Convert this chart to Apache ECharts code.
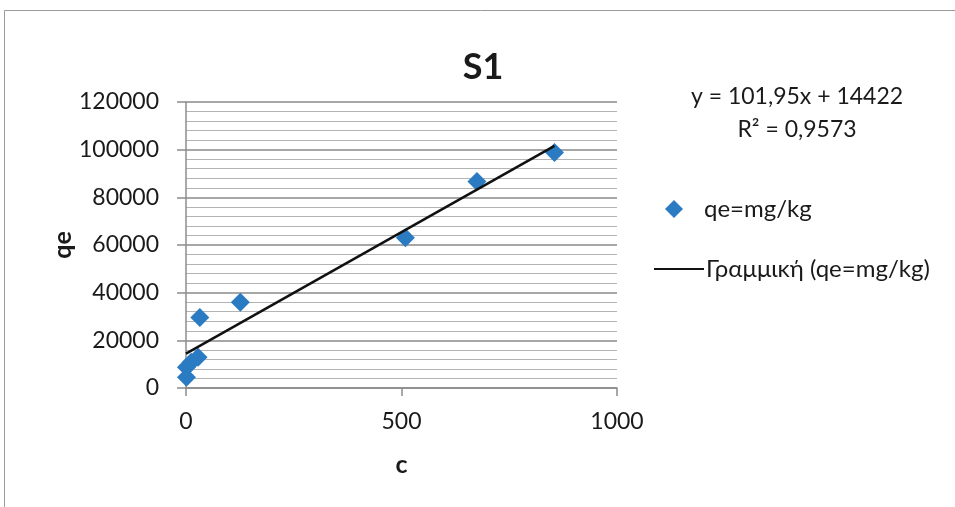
<!DOCTYPE html>
<html>
<head>
<meta charset="utf-8">
<script src="https://cdn.jsdelivr.net/npm/echarts@6/dist/echarts.min.js"></script>
<style>
  html, body { margin: 0; padding: 0; background: #fff; }
  #chart { width: 955px; height: 507px; }
</style>
</head>
<body>
<div id="chart"></div>
<script>
// Measured concentration c and sorbed amount qe (mg/kg)
const cValues  = [1, 1, 12, 28, 32, 126, 509, 675, 855];
const qeValues = [4500, 8700, 10800, 12900, 29600, 36000, 63000, 86600, 98800];

// Linear trend line coefficients (y = slope * x + intercept)
const slope = 101.95;
const intercept = 14422;
const rSquared = '0,9573';

const xTicks = { min: 0, max: 1000, interval: 500 };
const yTicks = { min: 0, max: 120000, interval: 20000 };

const seriesName = 'qe=mg/kg';
const trendName = 'Γραμμική (qe=mg/kg)';

const points = cValues.map((c, i) => [c, qeValues[i]]);
const xStart = Math.min(...cValues) - 1;
const xEnd = Math.max(...cValues);
const trendPoints = [
  [xStart, slope * xStart + intercept],
  [xEnd, slope * xEnd + intercept]
];

const FONT = 'Lato, "Open Sans", sans-serif';
const TEXT = '#1a1a1a';
const plain = v => String(v);

const chart = echarts.init(document.getElementById('chart'), null, { renderer: 'canvas' });
chart.setOption({
  backgroundColor: '#ffffff',
  animation: false,
  textStyle: { fontFamily: FONT, color: TEXT },
  title: {
    text: 'S1',
    left: 478,
    top: 44,
    textAlign: 'center',
    textStyle: { fontFamily: FONT, fontSize: 36, fontWeight: 'bold', color: TEXT }
  },
  legend: [
    {
      data: [{ name: seriesName, icon: 'diamond' }],
      left: 660,
      top: 192,
      itemWidth: 18,
      itemHeight: 18,
      textStyle: { fontFamily: FONT, fontSize: 24, color: TEXT, padding: [0, 0, 0, 16] }
    },
    {
      data: [{ name: trendName }],
      left: 648,
      top: 252,
      itemWidth: 50,
      itemHeight: 2,
      textStyle: { fontFamily: FONT, fontSize: 24, color: TEXT, padding: [0, 0, 0, -3] }
    }
  ],
  graphic: [
    {
      type: 'rect',
      shape: { x: 4.5, y: 10.5, width: 1000, height: 1000 },
      style: { fill: 'none', stroke: '#9a9a9a', lineWidth: 1 },
      silent: true
    },
    {
      type: 'text',
      x: 797, y: 85,
      style: {
        text: 'y = ' + String(slope).replace('.', ',') + 'x + ' + intercept,
        font: '23px ' + FONT,
        fill: TEXT,
        align: 'center'
      }
    },
    {
      type: 'text',
      x: 797, y: 118,
      style: {
        text: 'R² = ' + rSquared,
        font: '23px ' + FONT,
        fill: TEXT,
        align: 'center'
      }
    }
  ],
  grid: { left: 186, right: 338, top: 102, bottom: 119, containLabel: false },
  xAxis: {
    type: 'value',
    min: xTicks.min,
    max: xTicks.max,
    interval: xTicks.interval,
    name: 'c',
    nameLocation: 'middle',
    nameGap: 64,
    nameTextStyle: { fontFamily: FONT, fontSize: 25, fontWeight: 'bold', color: TEXT },
    axisLine: { show: true, lineStyle: { color: '#8c8c8c', width: 1.5 } },
    axisTick: { show: true, inside: false, length: 8, lineStyle: { color: '#8c8c8c', width: 1.5 } },
    axisLabel: { fontFamily: FONT, fontSize: 23, color: TEXT, margin: 22, formatter: plain },
    splitLine: { show: false }
  },
  yAxis: {
    type: 'value',
    min: yTicks.min,
    max: yTicks.max,
    interval: yTicks.interval,
    name: 'qe',
    nameLocation: 'middle',
    nameGap: 110,
    nameRotate: 90,
    nameTextStyle: { fontFamily: FONT, fontSize: 25, fontWeight: 'bold', color: TEXT },
    axisLine: { show: true, lineStyle: { color: '#8c8c8c', width: 1.5 } },
    axisTick: { show: true, inside: false, length: 9, lineStyle: { color: '#8c8c8c', width: 1.5 } },
    axisLabel: { fontFamily: FONT, fontSize: 23, color: TEXT, margin: 27, formatter: plain },
    splitLine: { show: true, lineStyle: { color: '#8a8a8a', width: 1.5 } },
    minorTick: { show: false, splitNumber: 5 },
    minorSplitLine: { show: true, lineStyle: { color: '#b4b4b4', width: 1 } }
  },
  series: [
    {
      name: trendName,
      type: 'line',
      data: trendPoints,
      symbol: 'none',
      lineStyle: { color: '#111111', width: 2.5 },
      itemStyle: { color: '#111111' },
      z: 3
    },
    {
      name: seriesName,
      type: 'scatter',
      data: points,
      symbol: 'diamond',
      symbolSize: 19,
      itemStyle: { color: '#2a7bc2', opacity: 1 },
      z: 2
    }
  ]
});
</script>
</body>
</html>
